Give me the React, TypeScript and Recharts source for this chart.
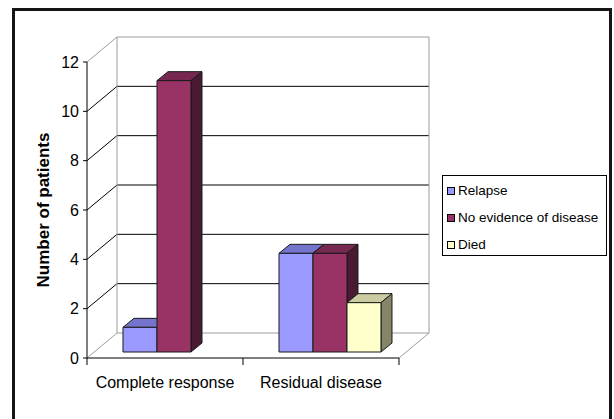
import React from 'react';
import { BarChart, Bar, XAxis, YAxis, CartesianGrid, Legend } from 'recharts';

// Outcome counts per response group
const CATEGORIES = ['Complete response', 'Residual disease'];
const SERIES_NAMES = ['Relapse', 'No evidence of disease', 'Died'];
const RELAPSE = [1, 4];
const NO_EVIDENCE = [11, 4];
const DIED = [0, 2];
const Y_TICKS = [0, 2, 4, 6, 8, 10, 12];

const data = CATEGORIES.map((category, i) => ({
  category,
  relapse: RELAPSE[i],
  ned: NO_EVIDENCE[i],
  died: DIED[i],
}));

const FONT = '"Liberation Sans", Arial, Helvetica, sans-serif';

// pseudo-3D geometry
const WALL_DX = 30; // floor / side wall depth
const WALL_DY = 25;
const BAR_SHIFT_X = 9; // bars stand part-way back on the floor
const BAR_SHIFT_Y = 6;
const BAR_DX = 11; // extrusion of each bar
const BAR_DY = 9;
const EDGE = '#9c9c9c';

const makeBar3D = (front: string, top: string, side: string) => (props: any) => {
  const { x, y, width, height } = props;
  if (!height || height <= 0) return <g />;
  const X = x + BAR_SHIFT_X;
  const Y = y - BAR_SHIFT_Y;
  const R = X + width;
  const B = Y + height;
  return (
    <g stroke="#1a1a1a" strokeWidth={1} strokeLinejoin="round">
      <polygon
        points={`${X},${Y} ${X + BAR_DX},${Y - BAR_DY} ${R + BAR_DX},${Y - BAR_DY} ${R},${Y}`}
        fill={top}
      />
      <polygon
        points={`${R},${Y} ${R + BAR_DX},${Y - BAR_DY} ${R + BAR_DX},${B - BAR_DY} ${R},${B}`}
        fill={side}
      />
      <rect x={X} y={Y} width={width} height={height} fill={front} />
    </g>
  );
};

// horizontal gridlines: diagonal across the side wall, then along the back wall
const gridHorizontal = (p: any) => {
  const { x1, x2, y1, index } = p;
  const edge = index === 0 || index === Y_TICKS.length - 1;
  return (
    <polyline
      key={p.key}
      points={`${x1},${y1} ${x1 + WALL_DX},${y1 - WALL_DY} ${x2 + WALL_DX},${y1 - WALL_DY}`}
      fill="none"
      stroke={edge ? EDGE : '#000'}
      strokeWidth={1}
    />
  );
};

// vertical edges of the back wall and the right edge of the floor
const wallEdges = (args: any) => {
  const o = args && args.offset;
  return o ? [o.left, o.left + o.width] : [];
};

const gridVertical = (p: any) => {
  const { x1, y1, y2, index } = p;
  if (index === 0) {
    return (
      <line
        key={p.key}
        x1={x1 + WALL_DX}
        y1={y1 - WALL_DY}
        x2={x1 + WALL_DX}
        y2={y2 - WALL_DY}
        stroke={EDGE}
        strokeWidth={1}
      />
    );
  }
  return (
    <g key={p.key} stroke={EDGE} strokeWidth={1}>
      <line x1={x1 + WALL_DX} y1={y1 - WALL_DY} x2={x1 + WALL_DX} y2={y2 - WALL_DY} />
      <line x1={x1} y1={y2} x2={x1 + WALL_DX} y2={y2 - WALL_DY} />
    </g>
  );
};

const CategoryTick = (p: any) => {
  const { x, y, payload, index, visibleTicksCount } = p;
  const half = payload && typeof payload.offset === 'number' ? payload.offset : 0;
  const last = index === visibleTicksCount - 1;
  return (
    <g>
      <line x1={x - half} y1={y} x2={x - half} y2={y + 7} stroke="#000" />
      {last && <line x1={x + half} y1={y} x2={x + half} y2={y + 7} stroke="#000" />}
      <text x={x} y={y + 30} textAnchor="middle" fontSize={16} fontFamily={FONT} fill="#000">
        {payload.value}
      </text>
    </g>
  );
};

const YTitle = (p: any) => {
  const vb = p.viewBox || { x: 47, y: 62, height: 296 };
  const cx = vb.x - 4;
  const cy = vb.y + vb.height / 2;
  return (
    <text
      x={cx}
      y={cy}
      transform={`rotate(-90 ${cx} ${cy})`}
      textAnchor="middle"
      dominantBaseline="central"
      fontSize={17}
      fontWeight="bold"
      fontFamily={FONT}
      fill="#000"
    >
      Number of patients
    </text>
  );
};

const LegendBox = (props: any) => {
  const items = [...(props.payload || [])].sort(
    (a: any, b: any) => SERIES_NAMES.indexOf(a.value) - SERIES_NAMES.indexOf(b.value)
  );
  return (
    <div
      style={{
        boxSizing: 'border-box',
        width: 165,
        height: 81,
        border: '1px solid #000',
        background: '#fff',
        paddingTop: 1,
        fontFamily: FONT,
        fontSize: 13.5,
        color: '#000',
      }}
    >
      {items.map((it: any) => (
        <div key={it.value} style={{ display: 'flex', alignItems: 'center', height: 27, paddingLeft: 4 }}>
          <span
            style={{
              display: 'inline-block',
              width: 6,
              height: 6,
              border: '1px solid #000',
              background: it.color,
              marginRight: 3,
            }}
          />
          <span>{it.value}</span>
        </div>
      ))}
    </div>
  );
};

export default function App() {
  return (
    <div
      style={{
        position: 'absolute',
        left: 0,
        top: 0,
        width: 614,
        height: 419,
        background: '#fff',
        overflow: 'hidden',
      }}
    >
      <BarChart
        width={614}
        height={419}
        data={data}
        margin={{ top: 62, right: 215, bottom: 31, left: 47 }}
        barCategoryGap="17.3%"
        barGap={0}
      >
        <CartesianGrid
          horizontal={gridHorizontal}
          vertical={gridVertical}
          verticalCoordinatesGenerator={wallEdges}
          fill="none"
        />
        <XAxis
          dataKey="category"
          axisLine={{ stroke: '#000' }}
          tickLine={false}
          tickSize={0}
          tickMargin={0}
          height={30}
          tick={<CategoryTick />}
          interval={0}
        />
        <YAxis
          domain={[0, 12]}
          ticks={Y_TICKS}
          width={40}
          axisLine={{ stroke: '#000' }}
          tickLine={{ stroke: '#000' }}
          tickSize={4}
          tickMargin={4}
          tick={{ fontSize: 16, fill: '#000', fontFamily: FONT }}
          label={<YTitle />}
          interval={0}
        />
        <Legend
          layout="vertical"
          align="center"
          verticalAlign="middle"
          wrapperStyle={{ position: 'absolute', left: 442, top: 175, width: 165, height: 81 }}
          content={LegendBox}
        />
        <Bar
          dataKey="relapse"
          name={SERIES_NAMES[0]}
          fill="#9999FF"
          shape={makeBar3D('#9999FF', '#7474CC', '#4D4D80')}
          isAnimationActive={false}
        />
        <Bar
          dataKey="ned"
          name={SERIES_NAMES[1]}
          fill="#993366"
          shape={makeBar3D('#993366', '#772850', '#4A1A32')}
          isAnimationActive={false}
        />
        <Bar
          dataKey="died"
          name={SERIES_NAMES[2]}
          fill="#FFFFCC"
          shape={makeBar3D('#FFFFCC', '#CCCCA3', '#858569')}
          isAnimationActive={false}
        />
      </BarChart>
      <div
        style={{
          position: 'absolute',
          left: 12,
          top: 8,
          width: 600,
          height: 440,
          boxSizing: 'border-box',
          border: '3px solid #151515',
          pointerEvents: 'none',
        }}
      />
    </div>
  );
}
